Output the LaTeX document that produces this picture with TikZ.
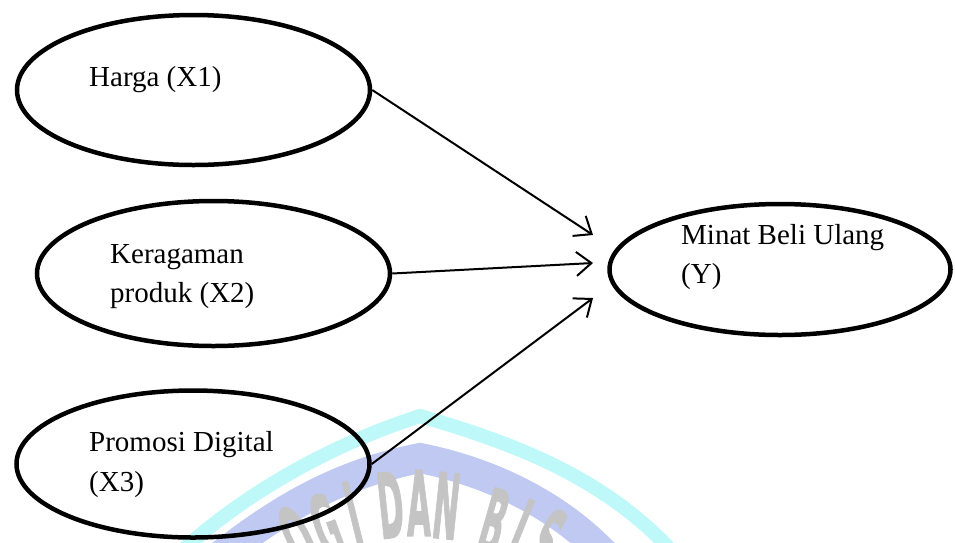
\documentclass[tikz,border=0pt]{standalone}
\usepackage{fontspec}
\setmainfont{Liberation Serif}
\newfontfamily\wmfont[FakeBold=2]{DejaVu Sans}
\usetikzlibrary{shapes.geometric,arrows.meta}
\definecolor{wmcyan}{HTML}{BEF8F9}
\definecolor{wmblue}{HTML}{BFC9F2}
\definecolor{wmgrey}{HTML}{C4C4C4}
\begin{document}
\begin{tikzpicture}[x=1pt,y=-1pt,
  var/.style={ellipse, draw, line width=4.5pt, inner sep=0pt},
  lbl/.style={anchor=base west, inner sep=0pt, font=\fontsize{29}{40}\selectfont},
  link/.style={line width=2pt, -{Straight Barb[length=15pt,width=24pt,line width=2pt]}},
  wm/.style={anchor=north, inner sep=0pt, text=wmgrey, font=\wmfont\bfseries\fontsize{90}{90}\selectfont, xscale=0.34}]
\useasboundingbox (0,0) rectangle (955,542);
% watermark (background logo)
\begin{scope}
\clip (0,0) rectangle (955,542);
\draw[wmcyan, line width=14pt] (172,560) .. controls (240,495) and (330,445) .. (420,416) .. controls (520,445) and (610,480) .. (680,560);
\draw[wmblue, line width=30pt] (215,560) .. controls (290,500) and (350,472) .. (420,458) .. controls (490,472) and (560,505) .. (610,560);
\node[rotate=27, wm] (wo) at (283,508) {O};
\node[rotate=20, wm] (wg) at (315,495) {G};
\node[rotate=14, wm] (wi) at (345,482) {I};
\node[rotate=6, wm] (wd) at (387,472) {D};
\node[rotate=0, wm] (wa) at (419,470) {A};
\node[rotate=-6, wm] (wn) at (450,473) {N};
\node[rotate=-16, wm] (wb) at (503,490) {B};
\node[rotate=-22, wm] (wi2) at (532,500) {I};
\node[rotate=-28, wm] (ws) at (562,511) {S};
\end{scope}
% variables
\node[var, minimum width=353pt, minimum height=150pt] (e1) at (193.5,90) {};
\node[var, minimum width=353pt, minimum height=145pt] (e2) at (213.5,273.5) {};
\node[var, minimum width=353pt, minimum height=147pt] (e3) at (193,464) {};
\node[var, minimum width=341pt, minimum height=131pt] (ey) at (780,269.5) {};
% labels
\node[lbl] (l1) at (89,86) {Harga (X1)};
\node[lbl] (l2a) at (110,263) {Keragaman};
\node[lbl] (l2b) at (110,302) {produk (X2)};
\node[lbl] (l3a) at (89,451) {Promosi Digital};
\node[lbl] (l3b) at (89,491) {(X3)};
\node[lbl] (lya) at (681,244) {Minat Beli Ulang};
\node[lbl] (lyb) at (681,283) {(Y)};
% arrow tips
\coordinate (t1) at (593,235);
\coordinate (t2) at (593,263);
\coordinate (t3) at (593,298);
\draw[link] (e1.east) -- (t1);
\draw[link] (e2.east) -- (t2);
\draw[link] (e3.east) -- (t3);
\end{tikzpicture}
\end{document}
